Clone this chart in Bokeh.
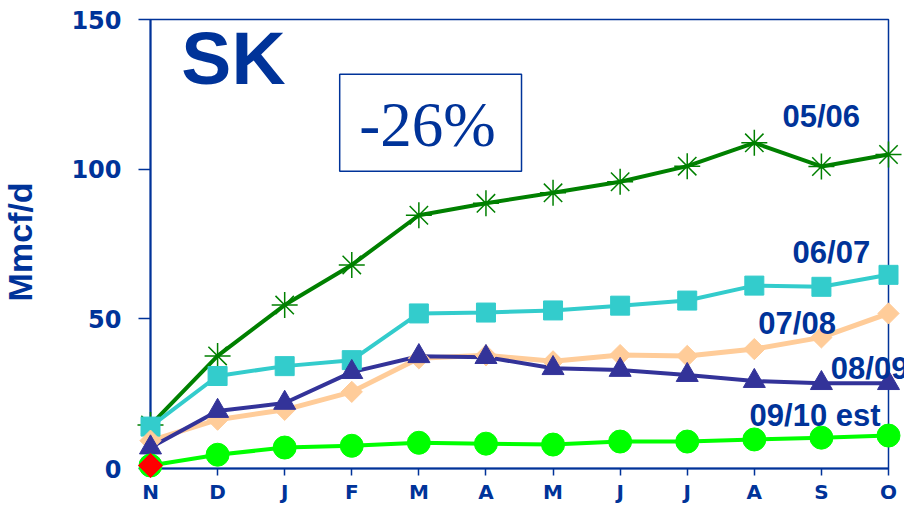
import math
from bokeh.plotting import figure
from bokeh.models import BoxAnnotation, FixedTicker
from bokeh.core.properties import value
from bokeh.embed import file_html
from bokeh.resources import INLINE

# ---- data -------------------------------------------------------------
months = ["N", "D", "J", "F", "M", "A", "M", "J", "J", "A", "S", "O"]
y_ticks = [0, 50, 100, 150]

s_0506 = [14.5, 37.6, 54.6, 68.0, 84.6, 88.6, 92.1, 95.8, 101.0, 108.8, 100.9, 104.9]
s_0607 = [14.0, 30.9, 34.2, 36.2, 51.8, 52.1, 52.8, 54.4, 56.1, 61.1, 60.7, 64.7]
s_0708 = [9.3, 16.3, 19.6, 25.6, 36.8, 37.8, 35.8, 37.9, 37.6, 39.9, 43.8, 51.8]
s_0809 = [7.0, 19.2, 21.9, 32.2, 37.5, 37.2, 33.5, 32.9, 31.2, 29.2, 28.5, 28.5]
s_0910 = [1.0, 4.6, 7.0, 7.6, 8.6, 8.3, 8.0, 9.0, 9.0, 9.7, 10.3, 11.0]
actual_months = ["N"]
actual_0910 = [1.0]

series_names = ["05/06", "06/07", "07/08", "08/09", "09/10 est"]

BLUE = "#003399"
SANS = "Liberation Sans"

xs = list(range(len(months)))

p = figure(width=904, height=506,
           x_range=(0, len(months) - 1), y_range=(y_ticks[0], y_ticks[-1]),
           output_backend="svg", toolbar_location=None,
           min_border_left=150, min_border_right=16,
           min_border_top=19, min_border_bottom=35)
p.background_fill_color = "white"
p.border_fill_color = "white"
p.outline_line_color = BLUE
p.outline_line_width = 1.5
p.xgrid.visible = False
p.ygrid.visible = False

for ax in (p.xaxis[0], p.yaxis[0]):
    ax.axis_line_color = BLUE
    ax.axis_line_width = 2
    ax.major_tick_line_color = BLUE
    ax.major_tick_line_width = 1.5
    ax.major_tick_in = 0
    ax.minor_tick_line_color = None
    ax.major_label_text_color = BLUE
    ax.major_label_text_font = "DejaVu Sans"
    ax.major_label_text_font_style = "bold"

p.xaxis.ticker = FixedTicker(ticks=xs)
p.xaxis.major_label_overrides = {i: m for i, m in enumerate(months)}
p.xaxis.major_tick_out = 7
p.xaxis.major_label_standoff = 4
p.xaxis.major_label_text_font_size = "20px"

p.yaxis.ticker = FixedTicker(ticks=y_ticks)
p.yaxis.major_tick_out = 12
p.yaxis.major_label_standoff = 17
p.yaxis.major_label_text_font_size = "24px"

# ---- series -----------------------------------------------------------
p.line(xs, s_0506, line_color="#008000", line_width=4)
m = p.scatter(xs, s_0506, marker="asterisk", size=26, line_color="#008000", line_width=1.5)
m.level = "annotation"

p.line(xs, s_0607, line_color="#33CCCC", line_width=4)
m = p.scatter(xs, s_0607, marker="square", size=19, fill_color="#33CCCC", line_color="#33CCCC")
m.level = "annotation"

p.line(xs, s_0708, line_color="#FFCC99", line_width=5)
m = p.scatter(xs, s_0708, marker="square", angle=math.pi / 4, size=15,
              fill_color="#FFCC99", line_color="#FFCC99")
m.level = "annotation"

p.line(xs, s_0809, line_color="#333399", line_width=4)
m = p.scatter(xs, s_0809, marker="triangle", size=22, fill_color="#333399", line_color="#333399")
m.level = "annotation"

p.line(xs, s_0910, line_color="#00FF00", line_width=4)
m = p.scatter(xs, s_0910, marker="circle", size=23, fill_color="#00FF00", line_color="#00FF00")
m.level = "annotation"

ax_idx = [months.index(mm) for mm in actual_months]
m = p.scatter(ax_idx, actual_0910, marker="square", angle=math.pi / 4, size=17,
              fill_color="#FF0000", line_color="#FF0000")
m.level = "annotation"

# ---- texts (glyphs at annotation level so they are not clipped) ---------
def txt(text, x, y, size, font=SANS, style="bold", **kw):
    r = p.text(x=[x], y=[y], text=[text], text_font=value(font), text_font_style=style,
               text_font_size=value(size), text_color=BLUE, **kw)
    r.level = "annotation"
    return r

label_pos = [(9.42, 117.7), (9.57, 72.2), (9.06, 48.3), (10.14, 33.4), (8.93, 17.8)]
for name, (lx, ly) in zip(series_names, label_pos):
    txt(name, lx, ly, "31px", text_baseline="alphabetic")

txt("SK", 0.46, 137.2, "75px", text_baseline="alphabetic")

p.add_layout(BoxAnnotation(left=2.82, right=5.53, bottom=99.3, top=131.7,
                           fill_color=None, line_color=BLUE, line_alpha=1.0,
                           line_width=1.5))
txt("-26%", 4.13, 114.6, "63px", font="Liberation Serif", style="normal",
    text_baseline="alphabetic", text_align="center")

txt("Mmcf/d", -1.95, 75.7, "34px", angle=math.pi / 2,
    text_align="center", text_baseline="middle")

open("out.html", "w").write(file_html(p, INLINE))
